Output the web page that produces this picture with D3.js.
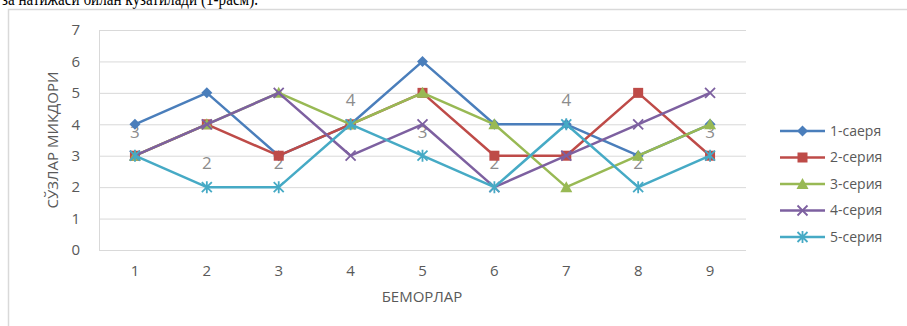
<!DOCTYPE html>
<html><head><meta charset="utf-8">
<script src="https://cdn.jsdelivr.net/npm/d3@7"></script>
<style>body{margin:0;background:#fff;}svg{display:block;}</style>
</head><body>
<svg id="c" width="907" height="326"></svg>
<script>
const categories = [1,2,3,4,5,6,7,8,9];
const seriesNames = ["1-саеря","2-серия","3-серия","4-серия","5-серия"];
const s1 = [4,5,3,4,6,4,4,3,4];
const s2 = [3,4,3,4,5,3,3,5,3];
const s3 = [3,4,5,4,5,4,2,3,4];
const s4 = [3,4,5,3,4,2,3,4,5];
const s5 = [3,2,2,4,3,2,4,2,3];
const yTicks = [0,1,2,3,4,5,6,7];
const colors = ["#4a7ebb","#be4b48","#98b954","#7d60a0","#46aac5"];
const markers = ["diamond","square","triangle","x","star"];
const allSeries = [s1,s2,s3,s4,s5];

const svg = d3.select("#c");
const font = "'Open Sans', sans-serif";

// partially visible text line at top (as in the reference)
svg.append("text").attr("x",2).attr("y",5).attr("font-family","'Liberation Serif', serif")
  .attr("font-size",18).attr("fill","#000").attr("textLength",256).attr("lengthAdjust","spacingAndGlyphs")
  .text("за натижаси билан кузатилади (1-расм).");

// chart border
svg.append("path").attr("d","M8.5,326 L8.5,9.5 L907,9.5").attr("fill","none")
  .attr("stroke","#d9d9d9").attr("stroke-width",1.5);

const x = d3.scaleBand().domain(categories).range([99,746]);
const y = d3.scaleLinear().domain([0,7]).range([250,30]);

// gridlines
svg.append("g").selectAll("line").data(yTicks).join("line")
  .attr("x1",99).attr("x2",746).attr("y1",d=>y(d)+0.5).attr("y2",d=>y(d)+0.5)
  .attr("stroke","#d9d9d9").attr("stroke-width",1);
svg.append("line").attr("x1",99.5).attr("x2",99.5).attr("y1",y(7)).attr("y2",y(0))
  .attr("stroke","#d9d9d9");

// y tick labels
svg.append("g").selectAll("text").data(yTicks).join("text")
  .attr("x",80).attr("y",d=>y(d)).attr("dy","0.35em").attr("text-anchor","end")
  .attr("font-family",font).attr("font-size",15).attr("fill","#595959").text(d=>d);
// x tick labels
svg.append("g").selectAll("text").data(categories).join("text")
  .attr("x",d=>x(d)+x.bandwidth()/2).attr("y",271).attr("dy","0.35em").attr("text-anchor","middle")
  .attr("font-family",font).attr("font-size",15).attr("fill","#595959").text(d=>d);

// axis titles
svg.append("text").attr("transform","translate(53,140) rotate(-90)").attr("text-anchor","middle")
  .attr("dy","0.35em").attr("font-family",font).attr("font-size",15).attr("fill","#595959").text("СЎЗЛАР МИКДОРИ");
svg.append("text").attr("x",422).attr("y",297).attr("dy","0.35em").attr("text-anchor","middle")
  .attr("font-family",font).attr("font-size",15).attr("fill","#595959").text("БЕМОРЛАР");

// data labels (series 5 values)
svg.append("g").selectAll("text").data(s5).join("text")
  .attr("x",(d,i)=>x(categories[i])+x.bandwidth()/2).attr("y",d=>y(d)-24).attr("dy","0.35em")
  .attr("text-anchor","middle").attr("font-family",font).attr("font-size",17).attr("fill","#8c8c8c").text(d=>d);

function drawMarker(g, type, color, cx, cy){
  if(type==="diamond"){
    g.append("path").attr("d",`M${cx},${cy-5.5}L${cx+5.5},${cy}L${cx},${cy+5.5}L${cx-5.5},${cy}Z`).attr("fill",color);
  } else if(type==="square"){
    g.append("rect").attr("x",cx-5).attr("y",cy-5).attr("width",10).attr("height",10).attr("fill",color);
  } else if(type==="triangle"){
    g.append("path").attr("d",`M${cx},${cy-6}L${cx+6},${cy+5}L${cx-6},${cy+5}Z`).attr("fill",color);
  } else if(type==="x"){
    g.append("path").attr("d",`M${cx-5},${cy-5}L${cx+5},${cy+5}M${cx-5},${cy+5}L${cx+5},${cy-5}`)
      .attr("stroke",color).attr("stroke-width",1.8);
  } else if(type==="star"){
    g.append("path").attr("d",`M${cx-5},${cy-5}L${cx+5},${cy+5}M${cx-5},${cy+5}L${cx+5},${cy-5}M${cx},${cy-6}L${cx},${cy+6}`)
      .attr("stroke",color).attr("stroke-width",1.8);
  }
}

const line = d3.line().x((d,i)=>x(categories[i])+x.bandwidth()/2).y(d=>y(d));
allSeries.forEach((s,k)=>{
  const g = svg.append("g");
  g.append("path").datum(s).attr("d",line).attr("fill","none").attr("stroke",colors[k])
    .attr("stroke-width",2.5).attr("stroke-linejoin","round");
  s.forEach((v,i)=>drawMarker(g, markers[k], colors[k], x(categories[i])+x.bandwidth()/2, y(v)));
});

// legend
const ly0 = 131, ldy = 26.5;
seriesNames.forEach((n,k)=>{
  const g = svg.append("g");
  const yy = ly0 + k*ldy;
  g.append("line").attr("x1",780).attr("x2",825).attr("y1",yy).attr("y2",yy)
    .attr("stroke",colors[k]).attr("stroke-width",2.5);
  drawMarker(g, markers[k], colors[k], 802.5, yy);
  g.append("text").attr("x",830).attr("y",yy).attr("dy","0.35em").attr("font-family",font)
    .attr("font-size",14).attr("fill","#595959").text(n);
});
</script>
</body></html>
